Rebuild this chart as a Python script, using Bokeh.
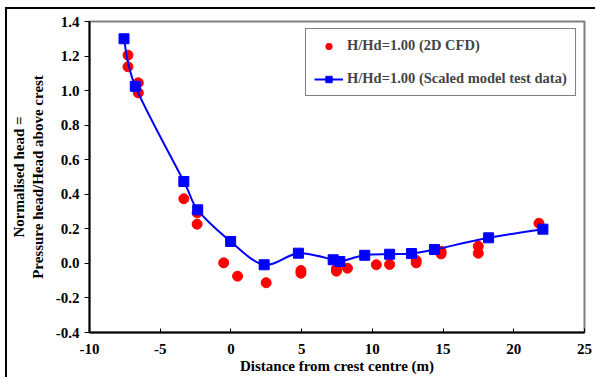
from bokeh.plotting import figure
from bokeh.models import (FixedTicker, NumeralTickFormatter, Legend, LegendItem,
                          Range1d)
from bokeh.embed import file_html
from bokeh.resources import INLINE

# ---- data ----
x_cfd = [-7.28, -7.28, -6.55, -6.55, -3.33, -2.39, -2.39, -0.51, 0.47, 2.49,
         4.95, 4.95, 7.46, 7.46, 8.24, 10.28, 11.22, 13.10, 13.10, 14.86,
         14.86, 17.49, 17.49, 21.78]
y_cfd = [1.205, 1.138, 1.045, 0.987, 0.374, 0.293, 0.227, 0.003, -0.074, -0.112,
         -0.041, -0.057, -0.031, -0.045, -0.028, -0.008, -0.006, 0.017, 0.003, 0.070,
         0.055, 0.099, 0.059, 0.232]

x_model = [-7.56, -6.76, -3.33, -2.35, -0.02, 2.35, 4.77, 7.23, 7.70, 9.46,
           11.22, 12.77, 14.39, 18.22, 22.06]
y_model = [1.300, 1.025, 0.474, 0.310, 0.127, -0.008, 0.059, 0.021, 0.011, 0.047,
           0.053, 0.057, 0.080, 0.148, 0.198]

x_ticks = [-10, -5, 0, 5, 10, 15, 20, 25]
y_ticks = [-0.4, -0.2, 0.0, 0.2, 0.4, 0.6, 0.8, 1.0, 1.2, 1.4]

label_cfd = "H/Hd=1.00 (2D CFD)"
label_model = "H/Hd=1.00 (Scaled model test data)"
x_title = "Distance from crest centre (m)"
y_title = "Normalised head =\nPressure head/Head above crest"

FONT = "Liberation Serif"
FS = "15px"

p = figure(width=590, height=370, output_backend="svg", toolbar_location=None,
           x_range=Range1d(-10, 25), y_range=Range1d(-0.4, 1.4),
           min_border_left=80, min_border_right=13, min_border_top=12,
           min_border_bottom=47)
p.styles = {"margin-left": "5px", "margin-top": "7px",
            "border-left": "2px solid black", "border-top": "2px solid black"}
p.background_fill_color = "white"
p.border_fill_color = "white"
p.xgrid.visible = False
p.ygrid.visible = False
p.outline_line_color = "#808080"
p.outline_line_width = 2

# smooth curve (Catmull-Rom style bezier through the measured points)
n = len(x_model)
x0s, y0s, x1s, y1s, cx0, cy0, cx1, cy1 = [], [], [], [], [], [], [], []
for i in range(n - 1):
    xp, yp = (x_model[i - 1], y_model[i - 1]) if i > 0 else (x_model[i], y_model[i])
    xa, ya = x_model[i], y_model[i]
    xb, yb = x_model[i + 1], y_model[i + 1]
    xn, yn = (x_model[i + 2], y_model[i + 2]) if i + 2 < n else (xb, yb)
    x0s.append(xa); y0s.append(ya); x1s.append(xb); y1s.append(yb)
    cx0.append(xa + (xb - xp) / 6.0); cy0.append(ya + (yb - yp) / 6.0)
    cx1.append(xb - (xn - xa) / 6.0); cy1.append(yb - (yn - ya) / 6.0)

r_cfd = p.scatter(x_cfd, y_cfd, marker="circle", size=10, fill_color="#FF0000",
                  line_color="#FF0000")
r_curve = p.bezier(x0=x0s, y0=y0s, x1=x1s, y1=y1s, cx0=cx0, cy0=cy0, cx1=cx1,
                   cy1=cy1, line_color="#0000FF", line_width=2)
r_model = p.scatter(x_model, y_model, marker="square", size=10,
                    fill_color="#0000FF", line_color="#0000FF")

# axes
for ax in (p.xaxis[0], p.yaxis[0]):
    ax.axis_line_color = "black"
    ax.axis_line_width = 2
    ax.major_tick_line_color = "black"
    ax.minor_tick_line_color = None
    ax.major_label_text_font = FONT
    ax.major_label_text_font_style = "bold"
    ax.major_label_text_font_size = FS
    ax.major_label_text_color = "black"
    ax.axis_label_text_font = FONT
    ax.axis_label_text_font_style = "bold"
    ax.axis_label_text_font_size = FS
    ax.axis_label_text_color = "black"

p.xaxis.ticker = FixedTicker(ticks=x_ticks)
p.xaxis.formatter = NumeralTickFormatter(format="0")
p.xaxis.major_tick_in = 4
p.xaxis.major_tick_out = 0
p.xaxis.major_label_standoff = 11
p.xaxis.axis_label = x_title
p.xaxis.axis_label_standoff = 1

p.yaxis.ticker = FixedTicker(ticks=y_ticks)
p.yaxis.formatter = NumeralTickFormatter(format="0.0")
p.yaxis.major_tick_in = 0
p.yaxis.major_tick_out = 5
p.yaxis.major_label_standoff = 5
p.yaxis.axis_label = y_title
p.yaxis.axis_label_standoff = 7

legend = Legend(items=[LegendItem(label=label_cfd, renderers=[r_cfd]),
                       LegendItem(label=label_model, renderers=[r_curve, r_model])],
                location=(216, 236))
legend.border_line_color = "black"
legend.border_line_width = 1
legend.background_fill_color = "white"
legend.background_fill_alpha = 1
legend.label_text_font = FONT
legend.label_text_font_style = "bold"
legend.label_text_font_size = "14.5px"
legend.glyph_width = 29
legend.glyph_height = 16
legend.label_height = 16
legend.label_standoff = 4
legend.spacing = 16
legend.padding = 8
legend.margin = 0
p.add_layout(legend)

open("out.html", "w").write(file_html(p, INLINE))
